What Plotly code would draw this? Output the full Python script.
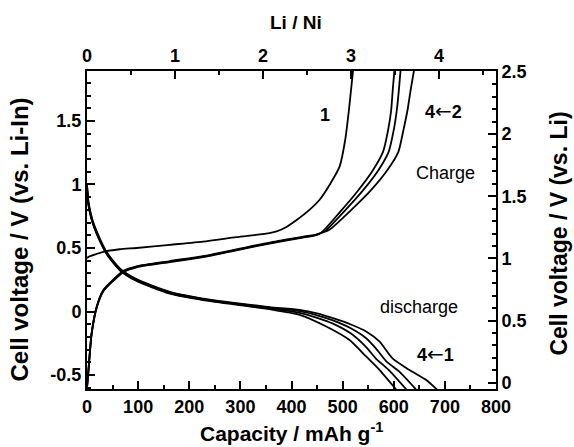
import plotly.graph_objects as go

# ---- data (capacity in mAh/g, voltage vs Li-In in V) ----
# discharge curves, cycles 1-4
d1_x = [0, 3, 10, 19, 38, 64, 97, 162, 227, 292, 357, 416, 450, 481, 515, 546, 572, 597, 630, 663, 686]
d1_v = [1.00, 0.86, 0.73, 0.63, 0.47, 0.34, 0.255, 0.155, 0.102, 0.066, 0.035, 0.013, -0.015, -0.052, -0.10, -0.157, -0.236, -0.367, -0.459, -0.538, -0.62]
d2_x = [0, 3, 10, 19, 38, 64, 97, 162, 227, 292, 357, 416, 450, 481, 515, 546, 565, 585, 610, 645]
d2_v = [0.99, 0.85, 0.72, 0.62, 0.465, 0.335, 0.25, 0.15, 0.098, 0.062, 0.030, 0.003, -0.03, -0.07, -0.13, -0.21, -0.29, -0.39, -0.47, -0.62]
d3_x = [0, 3, 10, 19, 38, 64, 97, 162, 227, 292, 357, 416, 450, 481, 515, 546, 565, 590, 626]
d3_v = [0.98, 0.84, 0.715, 0.615, 0.46, 0.33, 0.245, 0.145, 0.094, 0.058, 0.024, -0.01, -0.05, -0.095, -0.17, -0.28, -0.37, -0.46, -0.62]
d4_x = [0, 3, 10, 19, 38, 64, 97, 162, 227, 292, 357, 416, 468, 513, 546, 572, 606]
d4_v = [0.97, 0.83, 0.71, 0.61, 0.455, 0.325, 0.24, 0.14, 0.09, 0.054, 0.018, -0.026, -0.118, -0.223, -0.354, -0.459, -0.62]

# charge curves, cycle 1 and cycles 2-4
c1_x = [0, 3, 32, 64, 97, 162, 227, 292, 357, 371, 390, 410, 435, 455, 475, 494, 505, 513, 521]
c1_v = [0.42, 0.43, 0.47, 0.49, 0.50, 0.525, 0.55, 0.585, 0.617, 0.63, 0.665, 0.72, 0.80, 0.88, 1.0, 1.14, 1.35, 1.61, 1.92]
c2_x = [0, 3, 9, 19, 32, 51, 71, 97, 162, 227, 292, 357, 422, 448, 474, 517, 556, 588, 609, 619, 627, 633, 641]
c2_v = [-0.60, -0.45, -0.17, 0.04, 0.17, 0.25, 0.32, 0.356, 0.397, 0.436, 0.489, 0.543, 0.588, 0.606, 0.643, 0.80, 0.957, 1.115, 1.256, 1.429, 1.586, 1.743, 1.93]
c3_x = [0, 3, 9, 19, 32, 51, 71, 97, 162, 227, 292, 357, 422, 448, 466, 504, 539, 569, 590, 600, 606, 610, 614]
c3_v = [-0.60, -0.455, -0.175, 0.035, 0.165, 0.245, 0.315, 0.352, 0.393, 0.432, 0.485, 0.539, 0.585, 0.603, 0.635, 0.792, 0.949, 1.106, 1.256, 1.429, 1.586, 1.743, 1.93]
c4_x = [0, 3, 9, 19, 32, 51, 71, 97, 162, 227, 292, 357, 422, 448, 460, 495, 528, 557, 579, 589, 595, 598, 602]
c4_v = [-0.60, -0.46, -0.18, 0.03, 0.16, 0.24, 0.31, 0.348, 0.389, 0.428, 0.481, 0.535, 0.582, 0.600, 0.627, 0.784, 0.941, 1.098, 1.256, 1.429, 1.586, 1.743, 1.93]

x_ticks = [0, 100, 200, 300, 400, 500, 600, 700, 800]
top_ticks = [0, 1, 2, 3, 4]
left_ticks = [-0.5, 0, 0.5, 1, 1.5]
left_text = ["-0.5", "0", "0.5", "1", "1.5"]
right_ticks = [0, 0.5, 1, 1.5, 2, 2.5]
right_text = ["0", "0.5", "1", "1.5", "2", "2.5"]

FONT = "Liberation Sans, Arial, Helvetica, sans-serif"


def bold(items):
    return ["<b>%s</b>" % t for t in items]


fig = go.Figure()
for xs, vs in [(d1_x, d1_v), (d2_x, d2_v), (d3_x, d3_v), (d4_x, d4_v),
               (c1_x, c1_v), (c2_x, c2_v), (c3_x, c3_v), (c4_x, c4_v)]:
    fig.add_trace(go.Scatter(x=xs, y=vs, mode="lines",
                             line=dict(color="black", width=1.8, shape="spline", smoothing=0.6),
                             showlegend=False))

# invisible trace to activate secondary axes
fig.add_trace(go.Scatter(x=[0], y=[0], xaxis="x2", yaxis="y2", mode="markers",
                         marker=dict(opacity=0), showlegend=False, hoverinfo="skip"))

tickfont = dict(family=FONT, size=18, color="black")


def minor(step):
    return dict(dtick=step, ticks="inside", ticklen=4, tickwidth=2, tickcolor="black")


def ax(**kw):
    d = dict(showline=True, linecolor="black", linewidth=2, showgrid=False,
             ticks="inside", ticklen=8, tickwidth=2, tickcolor="black", tickfont=tickfont)
    d.update(kw)
    return d


fig.update_layout(
    width=574, height=447,
    margin=dict(l=87, r=78, t=71, b=58),
    paper_bgcolor="white", plot_bgcolor="white",
    xaxis=ax(range=[0, 800], tickvals=x_ticks, ticktext=bold(x_ticks), minor=minor(50)),
    xaxis2=ax(range=[0, 4.648], overlaying="x", side="top", anchor="y",
              tickvals=top_ticks, ticktext=bold(top_ticks), minor=minor(0.5)),
    yaxis=ax(range=[-0.61, 1.893], tickvals=left_ticks, ticktext=bold(left_text), minor=minor(0.1)),
    yaxis2=ax(range=[-0.051, 2.508], overlaying="y", side="right", anchor="x",
              tickvals=right_ticks, ticktext=bold(right_text), minor=minor(0.1)),
)

# axis titles
titles = [
    ("<b>Capacity / mAh g<sup>-1</sup></b>", 0.5, -0.135, 0, 21),
    ("<b>Li / Ni</b>", 0.511, 1.151, 0, 19),
    ("<b>Cell voltage / V (vs. Li-In)</b>", -0.164, 0.47, -90, 24),
    ("<b>Cell voltage / V (vs. Li)</b>", 1.155, 0.49, -90, 23),
]
for txt, x, y, ang, size in titles:
    fig.add_annotation(x=x, y=y, xref="paper", yref="paper", text=txt, showarrow=False,
                       textangle=ang, xanchor="center", yanchor="middle",
                       font=dict(family=FONT, size=size, color="black"))

ARROW = '<span style="font-family:DejaVu Sans;font-size:20px">\u2190</span>'
labels = [
    ("<b>1</b>", 466, 1.55),
    ("<b>4</b>" + ARROW + "<b>2</b>", 698, 1.58),
    ("Charge", 702, 1.09),
    ("discharge", 650, 0.035),
    ("<b>4</b>" + ARROW + "<b>1</b>", 682, -0.333),
]
for txt, x, y in labels:
    fig.add_annotation(x=x, y=y, xref="x", yref="y", text=txt, showarrow=False,
                       font=dict(family=FONT, size=18, color="black"))

fig.write_html("out.html")
